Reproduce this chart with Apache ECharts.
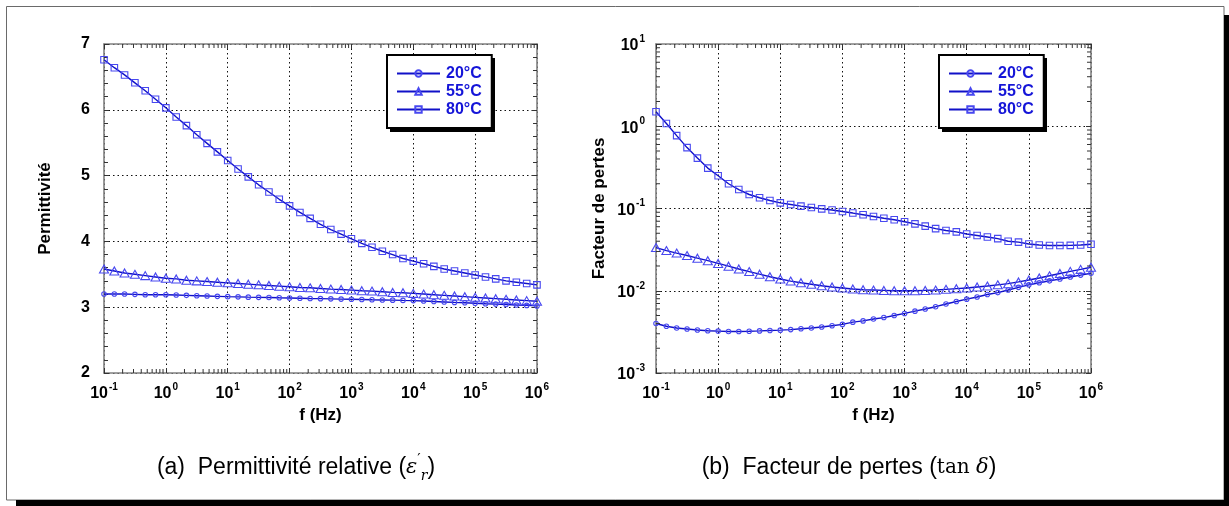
<!DOCTYPE html>
<html>
<head>
<meta charset="utf-8">
<script src="https://cdn.jsdelivr.net/npm/echarts@6/dist/echarts.min.js"></script>
<style>
html,body{margin:0;padding:0;background:#fff;}
#chart{width:1229px;height:506px;}
</style>
</head>
<body>
<div id="chart"></div>
<script>
// ---- data ----
const freqs = [0.1, 0.147, 0.215, 0.316, 0.464, 0.681, 1, 1.47, 2.15, 3.16, 4.64, 6.81, 10, 14.7, 21.5, 31.6, 46.4, 68.1, 100, 147, 215, 316, 464, 681, 1000, 1470, 2150, 3160, 4640, 6810, 10000, 14700, 21500, 31600, 46400, 68100, 100000, 147000, 215000, 316000, 464000, 681000, 1000000];
const seriesNames = ['20°C', '55°C', '80°C'];
const eps20 = [3.20,3.20,3.20,3.195,3.19,3.19, 3.19,3.185,3.18,3.175,3.17,3.165, 3.16,3.157,3.153,3.15,3.147,3.143, 3.14,3.137,3.133,3.13,3.127,3.123, 3.12,3.117,3.113,3.11,3.107,3.103, 3.10,3.094,3.087,3.08,3.073,3.067, 3.06,3.053,3.047,3.04,3.033,3.027, 3.02];
const eps55 = [3.58,3.55,3.52,3.50,3.48,3.46, 3.44,3.43,3.41,3.40,3.39,3.38, 3.37,3.36,3.35,3.34,3.33,3.32, 3.31,3.30,3.295,3.285,3.275,3.27, 3.26,3.25,3.245,3.235,3.225,3.22, 3.21,3.20,3.19,3.18,3.17,3.16, 3.15,3.14,3.13,3.12,3.11,3.10, 3.09];
const eps80 = [6.76,6.64,6.53,6.41,6.29,6.16, 6.03,5.89,5.76,5.62,5.49,5.36, 5.23,5.10,4.98,4.86,4.75,4.64, 4.54,4.44,4.35,4.26,4.18,4.11, 4.04,3.97,3.91,3.85,3.80,3.74, 3.70,3.66,3.62,3.58,3.55,3.52, 3.49,3.46,3.43,3.40,3.38,3.36, 3.34];
const tan20 = [0.0040,0.0037,0.00352,0.00343,0.00333,0.00327, 0.00323,0.00319,0.0032,0.00322,0.00325,0.00329, 0.00332,0.00337,0.00345,0.00352,0.00362,0.00376, 0.0039,0.00415,0.0043,0.00453,0.00472,0.005, 0.0053,0.00565,0.006,0.0064,0.0069,0.0074, 0.0079,0.0084,0.009,0.0095,0.0102,0.011, 0.0118,0.0125,0.0132,0.0139,0.0147,0.0155, 0.0163];
const tan55 = [0.0335,0.0308,0.0287,0.0268,0.0249,0.0232, 0.0215,0.0199,0.0184,0.0171,0.0159,0.0148, 0.0139,0.0131,0.0125,0.0120,0.0115,0.0111, 0.0108,0.0105,0.0103,0.0102,0.0101,0.0100, 0.0100,0.0100,0.0101,0.0102,0.0104,0.0106, 0.0108,0.0111,0.0114,0.0118,0.0122,0.0128, 0.0135,0.0143,0.0152,0.0162,0.0172,0.0182, 0.0193];
const tan80 = [1.50,1.08,0.77,0.55,0.41,0.31, 0.25,0.20,0.17,0.148,0.135,0.125, 0.117,0.112,0.107,0.103,0.099,0.096, 0.092,0.088,0.084,0.080,0.076,0.073, 0.069,0.065,0.061,0.057,0.054,0.052, 0.049,0.047,0.045,0.043,0.040,0.039, 0.037,0.036,0.0355,0.0355,0.0356,0.036, 0.0367];
const xTitle = 'f (Hz)';
const yTitleA = 'Permittivité';
const yTitleB = 'Facteur de pertes';
const captionA = '{n|(a)  Permittivité relative (}{m|ε}{p|′}{r|r}{n|)}';
const captionB = '{n|(b)  Facteur de pertes (}{u|tan }{m|δ}{n|)}';

// ---- helpers ----
const FONT = '"Liberation Sans", Arial, Helvetica, sans-serif';
const SERIF = '"DejaVu Serif", "Liberation Serif", serif';
const LINE = '#1010c8';
const MARK = '#4848f0';
const AXC = '#808080';
const TICKC = '#333';
const symbols = [['circle', 4.5], ['triangle', [9, 8]], ['rect', 6.5]];

function pow10Label(v) {
  const n = Math.round(Math.log10(v));
  return '{b|10}{s|' + n + '}';
}
const powRich = {
  b: {fontFamily: FONT, fontWeight: 'bold', fontSize: 16, color: '#000', lineHeight: 20, verticalAlign: 'bottom'},
  s: {fontFamily: FONT, fontWeight: 'bold', fontSize: 10, color: '#000', lineHeight: 20, verticalAlign: 'top', padding: [0, 0, 0, 1]}
};

function decadeMinor(lo, hi) {
  const out = [];
  for (let e = lo; e < hi; e++) for (let k = 2; k <= 9; k++) out.push(+(k * Math.pow(10, e)).toPrecision(3));
  return out;
}

function mkSeries(values, idx, gi) {
  return {
    name: seriesNames[idx], type: 'line', xAxisIndex: gi * 2, yAxisIndex: gi * 2,
    data: freqs.map((f, i) => [f, values[i]]),
    symbol: symbols[idx][0], symbolSize: symbols[idx][1], showSymbol: true,
    lineStyle: {color: LINE, width: 1.4},
    itemStyle: {color: 'rgba(255,255,255,0)', borderColor: MARK, borderWidth: 1.1},
    emphasis: {disabled: true}, z: 3 + idx, animation: false
  };
}

function tickSeries(gi, dir, vals, lo, hi) {
  return {
    type: 'custom', xAxisIndex: gi * 2, yAxisIndex: gi * 2, silent: true, animation: false, z: 5, clip: false,
    data: vals.map(v => dir === 'x' ? [v, lo] : [lo, v]),
    renderItem: function (params, api) {
      const L = 4;
      if (dir === 'x') {
        const v = api.value(0);
        const p1 = api.coord([v, lo]);
        const p2 = api.coord([v, hi]);
        return {type: 'group', children: [
          {type: 'line', shape: {x1: p1[0], y1: p1[1], x2: p1[0], y2: p1[1] - L}, style: {stroke: TICKC, lineWidth: 1}},
          {type: 'line', shape: {x1: p2[0], y1: p2[1], x2: p2[0], y2: p2[1] + L}, style: {stroke: TICKC, lineWidth: 1}}
        ]};
      } else {
        const v = api.value(1);
        const p1 = api.coord([lo, v]);
        const p2 = api.coord([hi, v]);
        return {type: 'group', children: [
          {type: 'line', shape: {x1: p1[0], y1: p1[1], x2: p1[0] + L, y2: p1[1]}, style: {stroke: TICKC, lineWidth: 1}},
          {type: 'line', shape: {x1: p2[0], y1: p2[1], x2: p2[0] - L, y2: p2[1]}, style: {stroke: TICKC, lineWidth: 1}}
        ]};
      }
    }
  };
}

const axisLine = {show: true, onZero: false, lineStyle: {color: AXC, width: 1.6}};
const majorTick = {show: true, inside: true, length: 5, lineStyle: {color: TICKC, width: 1}};
const gridLine = {show: true, lineStyle: {color: '#111', width: 1, type: [1.5, 3]}};

function xAxes(gi) {
  const base = {type: 'log', logBase: 10, min: 0.1, max: 1e6, gridIndex: gi, axisLine: axisLine, axisTick: majorTick};
  return [
    Object.assign({}, base, {position: 'bottom', splitLine: gridLine,
      axisLabel: {formatter: pow10Label, rich: powRich, margin: 9},
      name: xTitle, nameLocation: 'middle', nameGap: 31,
      nameTextStyle: {fontFamily: FONT, fontWeight: 'bold', fontSize: 17, color: '#000'}}),
    Object.assign({}, base, {position: 'top', splitLine: {show: false}, axisLabel: {show: false}})
  ];
}

const yAxes = [
  {type: 'value', min: 2, max: 7, interval: 1, gridIndex: 0, position: 'left', axisLine: axisLine, axisTick: majorTick,
   minorTick: {show: true, splitNumber: 5, length: 4, lineStyle: {color: TICKC, width: 1}},
   splitLine: gridLine,
   axisLabel: {margin: 14, fontFamily: FONT, fontWeight: 'bold', fontSize: 16, color: '#000'},
   name: yTitleA, nameLocation: 'middle', nameGap: 50, nameRotate: 90,
   nameTextStyle: {fontFamily: FONT, fontWeight: 'bold', fontSize: 17, color: '#000'}},
  {type: 'value', min: 2, max: 7, interval: 1, gridIndex: 0, position: 'right', axisLine: axisLine, axisTick: majorTick,
   minorTick: {show: true, splitNumber: 5, length: 4, lineStyle: {color: TICKC, width: 1}},
   splitLine: {show: false}, axisLabel: {show: false}},
  {type: 'log', logBase: 10, min: 0.001, max: 10, gridIndex: 1, position: 'left', axisLine: axisLine, axisTick: majorTick,
   splitLine: gridLine,
   axisLabel: {formatter: pow10Label, rich: powRich, margin: 11},
   name: yTitleB, nameLocation: 'middle', nameGap: 48, nameRotate: 90,
   nameTextStyle: {fontFamily: FONT, fontWeight: 'bold', fontSize: 17, color: '#000'}},
  {type: 'log', logBase: 10, min: 0.001, max: 10, gridIndex: 1, position: 'right', axisLine: axisLine, axisTick: majorTick,
   splitLine: {show: false}, axisLabel: {show: false}}
];

function legendFor(left) {
  return {
    data: seriesNames, left: left, top: 55, orient: 'vertical',
    itemWidth: 43, itemHeight: 8, itemGap: 2,
    padding: [10.5, 10, 10.5, 9],
    backgroundColor: '#fff', borderColor: '#000', borderWidth: 2,
    textStyle: {fontFamily: FONT, fontWeight: 'bold', fontSize: 16, color: '#1515d8', padding: [0, 0, 0, 1]},
    selectedMode: false, z: 6
  };
}
function legendShadow(left) {
  return {type: 'rect', silent: true, z: 1, shape: {x: left + 3, y: 58, width: 105, height: 74}, style: {fill: '#000'}};
}

const capRich = {
  n: {fontFamily: FONT, fontSize: 23, color: '#000', lineHeight: 30, verticalAlign: 'middle'},
  u: {fontFamily: SERIF, fontSize: 20, color: '#000', lineHeight: 30, verticalAlign: 'middle'},
  m: {fontFamily: SERIF, fontStyle: 'italic', fontSize: 21, color: '#000', lineHeight: 30, verticalAlign: 'middle'},
  p: {fontFamily: SERIF, fontSize: 15, color: '#000', lineHeight: 26, verticalAlign: 'top'},
  r: {fontFamily: SERIF, fontStyle: 'italic', fontSize: 14, color: '#000', lineHeight: 22, verticalAlign: 'bottom'}
};

function caption(text, cx) {
  return {
    type: 'text', x: cx, y: 468, silent: true,
    style: {text: text, align: 'center', verticalAlign: 'middle', rich: capRich}
  };
}

const chart = echarts.init(document.getElementById('chart'), null, {renderer: 'canvas'});
const option = {
  backgroundColor: '#fff',
  animation: false,
  grid: [
    {left: 104, top: 44, width: 433, height: 329, containLabel: false},
    {left: 656, top: 44, width: 435, height: 329, containLabel: false}
  ],
  xAxis: xAxes(0).concat(xAxes(1)),
  yAxis: yAxes,
  legend: [legendFor(387), legendFor(939)],
  series: [
    mkSeries(eps20, 0, 0), mkSeries(eps55, 1, 0), mkSeries(eps80, 2, 0),
    mkSeries(tan20, 0, 1), mkSeries(tan55, 1, 1), mkSeries(tan80, 2, 1),
    tickSeries(0, 'x', decadeMinor(-1, 6), 2, 7),
    tickSeries(1, 'x', decadeMinor(-1, 6), 0.001, 10),
    tickSeries(1, 'y', decadeMinor(-3, 1), 0.1, 1e6)
  ],
  graphic: [
    {type: 'rect', silent: true, z: -10, shape: {x: 6.5, y: 6.5, width: 1217.5, height: 493.5}, style: {fill: 'none', stroke: '#6a6a6a', lineWidth: 1}},
    {type: 'rect', silent: true, shape: {x: 16, y: 500, width: 1213, height: 6}, style: {fill: '#000'}},
    {type: 'rect', silent: true, shape: {x: 1224, y: 15, width: 5, height: 491}, style: {fill: '#000'}},
    legendShadow(387), legendShadow(939),
    caption(captionA, 296),
    caption(captionB, 849)
  ]
};
chart.setOption(option);
</script>
</body>
</html>
